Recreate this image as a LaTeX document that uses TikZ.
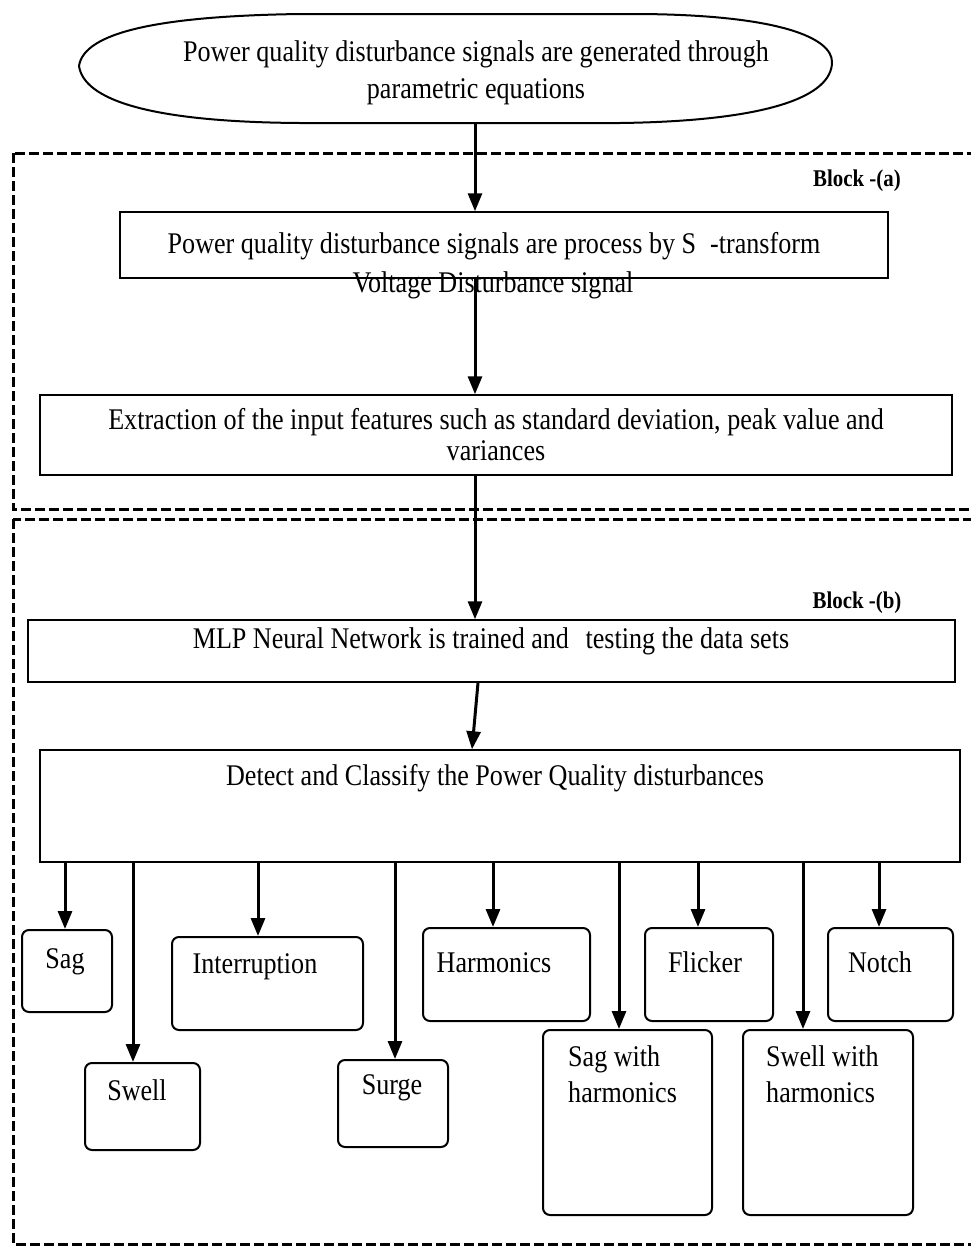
\documentclass[tikz,border=0pt]{standalone}
\usepackage{fontspec}
\setmainfont{Liberation Serif}[FakeStretch=0.87]
\usetikzlibrary{arrows.meta}
\begin{document}
\begin{tikzpicture}[x=1pt,y=-1pt,
  every node/.style={font=\fontsize{30}{34}\selectfont, inner sep=0pt},
  box/.style={draw, line width=1.5pt, rectangle},
  rbox/.style={draw, line width=2pt, rounded corners=7pt},
  arr/.style={line width=3pt, -{Triangle[length=18pt,width=14pt]}},
  blk/.style={line width=3pt, dash pattern=on 10pt off 4pt},
  lbl/.style={font=\fontsize{24}{28}\selectfont\bfseries}]
\clip (0,0) rectangle (971,1251);
\fill[white] (0,0) rectangle (971,1251);

% x positions of connectors
\coordinate (ax) at (475,0);
\coordinate (m1) at (478,0);
\coordinate (m2) at (472,0);
\coordinate (o1) at (65,0);
\coordinate (o2) at (133,0);
\coordinate (o3) at (258,0);
\coordinate (o4) at (395,0);
\coordinate (o5) at (493,0);
\coordinate (o6) at (619,0);
\coordinate (o7) at (698,0);
\coordinate (o8) at (803,0);
\coordinate (o9) at (879,0);

% top rounded ellipse
\draw[line width=2pt] (79,66) .. controls (84,32) and (160,16) .. (300,14)
  -- (640,14) .. controls (780,15) and (832,38) .. (832,62)
  .. controls (832,96) and (770,121) .. (620,123)
  -- (300,123) .. controls (150,122) and (84,100) .. (79,66) -- cycle;
\coordinate (ell) at (475,123);
\node[align=center, font=\fontsize{30}{37}\selectfont] (elltxt) at (476,73) {Power quality disturbance signals are generated through\\parametric equations};

% block (a)
\draw[blk] (13,153) rectangle (1000,509);
\node[lbl] (la) at (857,181) {Block -(a)};

\node[box, minimum width=768pt, minimum height=66pt] (b1) at (504,245) {};
\node (b1t) at (494,246) {Power quality disturbance signals are process by S\hspace{14pt}-transform};
\node (volt) at (493,285) {Voltage Disturbance signal};

\node[box, minimum width=912pt, minimum height=80pt, align=center, font=\fontsize{30}{31}\selectfont] (b2) at (496,435) {Extraction of the input features such as standard deviation, peak value and\\variances};

% block (b)
\draw[blk] (13,519) rectangle (1000,1244);
\node[lbl] (lb) at (857,603) {Block -(b)};

\node[box, minimum width=927pt, minimum height=62pt] (mlp) at (491.5,651) {};
\node (mlpt) at (491,641) {MLP Neural Network is trained and\hspace{10pt} testing the data sets};

\node[box, minimum width=920pt, minimum height=112pt] (det) at (500,806) {};
\node (dett) at (495,778) {Detect and Classify the Power Quality disturbances};

% output boxes
\node[rbox, minimum width=90pt, minimum height=82pt] (sag) at (67,971) {};
\node (sagt) at (65,962) {Sag};
\node[rbox, minimum width=115pt, minimum height=87pt] (swell) at (142.5,1106.5) {};
\node (swellt) at (137,1090) {Swell};
\node[rbox, minimum width=191pt, minimum height=93pt] (intr) at (267.5,983.5) {};
\node (intrt) at (255,967) {Interruption};
\node[rbox, minimum width=167pt, minimum height=93pt] (harm) at (506.5,974.5) {};
\node (harmt) at (494,963) {Harmonics};
\node[rbox, minimum width=110pt, minimum height=87pt] (surge) at (393,1103.5) {};
\node (surget) at (392,1088) {Surge};
\node[rbox, minimum width=169pt, minimum height=185pt] (sagh) at (627.5,1122.5) {};
\node[anchor=north west, align=left, font=\fontsize{30}{36}\selectfont] (saght) at (568,1045) {Sag with\\harmonics};
\node[rbox, minimum width=128pt, minimum height=93pt] (flick) at (709,974.5) {};
\node (flickt) at (705,962) {Flicker};
\node[rbox, minimum width=170pt, minimum height=185pt] (swellh) at (828,1122.5) {};
\node[anchor=north west, align=left, font=\fontsize{30}{36}\selectfont] (swellht) at (766,1045) {Swell with\\harmonics};
\node[rbox, minimum width=125pt, minimum height=93pt] (notch) at (890.5,974.5) {};
\node (notcht) at (880,962) {Notch};

% main connectors
\draw[arr] (ell) -- (b1.north -| ax);
\draw[arr] (b1.south -| ax) -- (b2.north -| ax);
\draw[arr] (b2.south -| ax) -- (mlp.north -| ax);
\draw[arr] (mlp.south -| m1) -- (det.north -| m2);

% output connectors
\draw[arr] (det.south -| o1) -- (sag.north -| o1);
\draw[arr] (det.south -| o2) -- (swell.north -| o2);
\draw[arr] (det.south -| o3) -- (intr.north -| o3);
\draw[arr] (det.south -| o4) -- (surge.north -| o4);
\draw[arr] (det.south -| o5) -- (harm.north -| o5);
\draw[arr] (det.south -| o6) -- (sagh.north -| o6);
\draw[arr] (det.south -| o7) -- (flick.north -| o7);
\draw[arr] (det.south -| o8) -- (swellh.north -| o8);
\draw[arr] (det.south -| o9) -- (notch.north -| o9);
\end{tikzpicture}
\end{document}
